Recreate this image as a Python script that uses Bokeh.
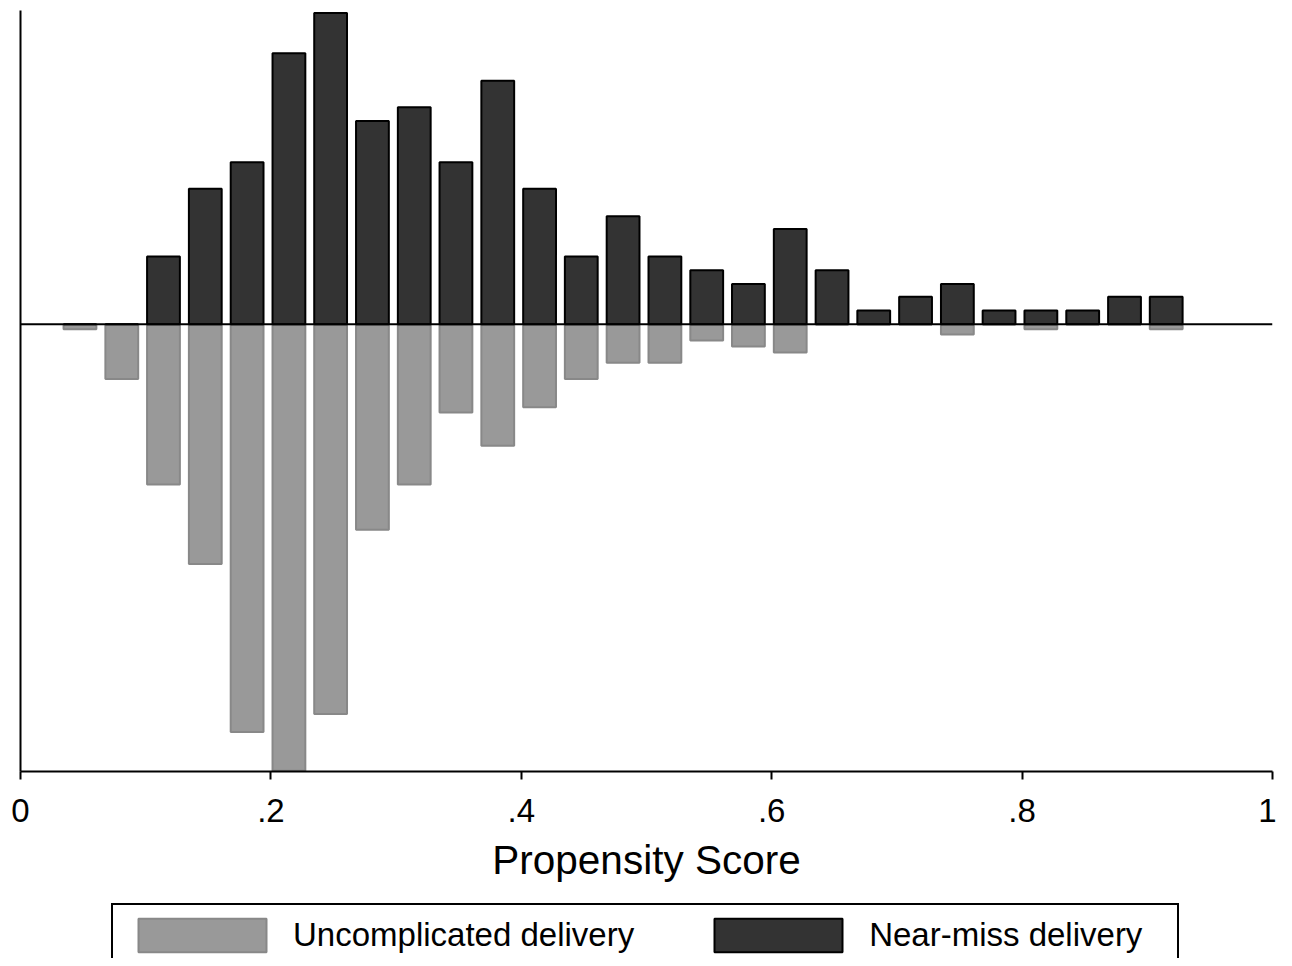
from bokeh.plotting import figure
from bokeh.layouts import column
from bokeh.models import ColumnDataSource, FixedTicker, Span, Legend, LegendItem
from bokeh.embed import file_html
from bokeh.resources import INLINE

# Bin centres (propensity score) and densities
bin_centers = [0.0475, 0.0809, 0.1142, 0.1476, 0.1810, 0.2144, 0.2477, 0.2811, 0.3145,
               0.3478, 0.3812, 0.4146, 0.4479, 0.4813, 0.5147, 0.5481, 0.5814, 0.6148,
               0.6482, 0.6815, 0.7149, 0.7483, 0.7816, 0.8150, 0.8484, 0.8818, 0.9151]
near_miss = [0, 0, 0.79, 1.58, 1.89, 3.16, 3.63, 2.37, 2.53, 1.89, 2.84, 1.58, 0.79, 1.26,
             0.79, 0.63, 0.47, 1.11, 0.63, 0.16, 0.32, 0.47, 0.16, 0.16, 0.16, 0.32, 0.32]
uncomplicated = [0.06, 0.64, 1.87, 2.80, 4.76, 5.21, 4.55, 2.40, 1.87, 1.03, 1.42, 0.97, 0.64,
                 0.45, 0.45, 0.19, 0.26, 0.33, 0, 0, 0, 0.12, 0, 0.06, 0, 0, 0.06]
tick_values = [0, 0.2, 0.4, 0.6, 0.8, 1.0]
tick_labels = ["0", ".2", ".4", ".6", ".8", "1"]
series_names = ["Uncomplicated delivery", "Near-miss delivery"]
x_title = "Propensity Score"

FONT = "Liberation Sans"
GRAY_FILL, GRAY_LINE = "#999999", "#888888"
DARK_FILL, DARK_LINE = "#333333", "black"

neg_unc = [-v for v in uncomplicated]
src = ColumnDataSource(dict(x=bin_centers, nm=near_miss, unc=neg_unc))

p = figure(width=1276, height=900, output_backend="svg", toolbar_location=None,
           x_range=(0, 1), y_range=(-5.22, 3.66),
           min_border_top=10, min_border_left=20, min_border_right=4, min_border_bottom=129)
p.outline_line_color = None
p.grid.visible = False

p.vbar(x="x", top=0, bottom="unc", width=0.0262, source=src,
       fill_color=GRAY_FILL, line_color=GRAY_LINE, line_width=2)
p.vbar(x="x", top="nm", bottom=0, width=0.0262, source=src,
       fill_color=DARK_FILL, line_color=DARK_LINE, line_width=2)

p.add_layout(Span(location=0, dimension="width", line_color="black", line_width=2))

# x axis
xa = p.xaxis[0]
xa.ticker = FixedTicker(ticks=tick_values)
xa.major_label_overrides = {t: l for t, l in zip(tick_values, tick_labels)}
xa.major_label_text_font = FONT
xa.major_label_text_font_size = "33px"
xa.major_label_text_color = "black"
xa.major_tick_out = 8
xa.major_tick_in = 0
xa.major_tick_line_width = 2
xa.minor_tick_line_color = None
xa.axis_line_width = 2
xa.major_label_standoff = 19
xa.axis_label = x_title
xa.axis_label_text_font = FONT
xa.axis_label_text_font_size = "40.5px"
xa.axis_label_text_font_style = "normal"
xa.axis_label_text_color = "black"
xa.axis_label_standoff = 12

# y axis: line only
ya = p.yaxis[0]
ya.ticker = FixedTicker(ticks=[])
ya.axis_line_width = 2
ya.major_tick_line_color = None
ya.minor_tick_line_color = None
ya.major_label_standoff = 0

# legend strip below the chart (swatch renderers hidden behind the legend box)
p2 = figure(width=1276, height=58, output_backend="svg", toolbar_location=None,
            x_range=(0, 1), y_range=(0, 1), x_axis_location=None, y_axis_location=None,
            min_border=0, min_border_left=0, min_border_right=0,
            min_border_top=0, min_border_bottom=0)
p2.outline_line_color = None
p2.grid.visible = False
g_unc = p2.vbar(x=[0.5], top=[0.5], bottom=[0.4], width=0.01,
                fill_color=GRAY_FILL, line_color=GRAY_LINE, line_width=2)
g_nm = p2.vbar(x=[0.5], top=[0.5], bottom=[0.4], width=0.01,
               fill_color=DARK_FILL, line_color=DARK_LINE, line_width=2)

legend = Legend(items=[LegendItem(label=series_names[0], renderers=[g_unc]),
                       LegendItem(label=series_names[1], renderers=[g_nm])],
                orientation="horizontal", location=(91, -9),
                glyph_width=160, glyph_height=42, label_standoff=11, spacing=64,
                padding=9, margin=0, label_width=299,
                label_text_font=FONT, label_text_font_size="33px", label_text_color="black",
                border_line_color="black", border_line_width=2, border_line_alpha=1,
                background_fill_color="white", background_fill_alpha=1)
p2.add_layout(legend)

layout = column(p, p2, spacing=0)
open("out.html", "w").write(file_html(layout, INLINE))
